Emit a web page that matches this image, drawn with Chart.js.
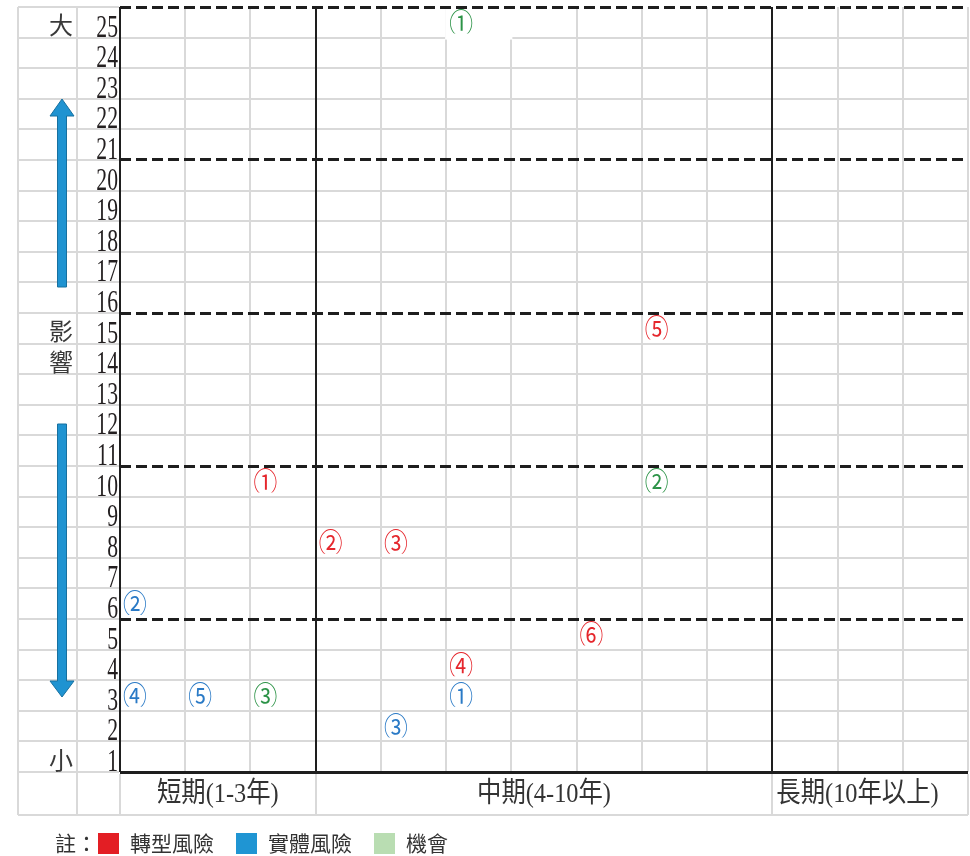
<!DOCTYPE html>
<html>
<head>
<meta charset="utf-8">
<script src="https://cdn.jsdelivr.net/npm/chart.js@4.4.0/dist/chart.umd.min.js"></script>
<style>
html, body { margin: 0; padding: 0; background: #fff; }
canvas { display: block; }
</style>
</head>
<body>
<canvas id="riskMatrix" width="970" height="856"></canvas>
<script>
// x = year (column 1..13), y = impact (row 1..25)
var transitionYears  = [3, 4, 5, 6, 9, 8];
var transitionImpact = [10, 8, 8, 4, 15, 5];
var physicalYears    = [6, 1, 5, 1, 2];
var physicalImpact   = [3, 6, 2, 3, 3];
var opportunityYears  = [6, 9, 3];
var opportunityImpact = [25, 10, 3];

var markerLabels = ['①', '②', '③', '④', '⑤', '⑥'];
var seriesNames = ['轉型風險', '實體風險', '機會'];
var impactTicks = [1, 2, 3, 4, 5, 6, 7, 8, 9, 10, 11, 12, 13, 14, 15, 16, 17, 18, 19, 20, 21, 22, 23, 24, 25];
var impactWords = { 25: '大', 15: '影', 14: '響', 1: '小' };
var periodLabels = ['短期(1-3年)', '中期(4-10年)', '長期(10年以上)'];
var periodStarts = [0, 3, 10];
var periodEnds = [3, 10, 13];
var dashedImpact = [5, 10, 15, 20, 25];

var GRAY = '#d9d9d9';
var INK = '#1e1e1e';

function toPoints(xs, ys) {
    return xs.map(function (x, i) { return { x: x, y: ys[i] }; });
}

function drawText(c, str, x, y, font, color, align, baseline, sx) {
    c.save();
    c.font = font;
    c.fillStyle = color;
    c.textAlign = align;
    c.textBaseline = baseline;
    c.translate(x, y);
    c.scale(sx || 1, 1);
    c.fillText(str, 0, 0);
    c.restore();
}

function drawArrow(c, cx, tipY, baseY, endY) {
    // tipY: arrow point, baseY: where head meets shaft, endY: shaft end
    c.save();
    c.beginPath();
    c.moveTo(cx, tipY);
    c.lineTo(cx + 12, baseY);
    c.lineTo(cx + 4.5, baseY);
    c.lineTo(cx + 4.5, endY);
    c.lineTo(cx - 4.5, endY);
    c.lineTo(cx - 4.5, baseY);
    c.lineTo(cx - 12, baseY);
    c.closePath();
    c.fillStyle = '#1f93d1';
    c.fill();
    c.strokeStyle = '#17709f';
    c.lineWidth = 1;
    c.stroke();
    c.restore();
}

var tablePlugin = {
    id: 'tablePlugin',
    afterDraw: function (chart) {
        var c = chart.ctx;
        var xs = chart.scales.x;
        var ys = chart.scales.y;
        var area = chart.chartArea;
        var rowBottom = area.bottom + 43;

        // left table columns + bottom label row
        c.save();
        c.strokeStyle = GRAY;
        c.lineWidth = 2;
        c.beginPath();
        for (var v = 0; v <= 25; v++) {
            var py = Math.round(ys.getPixelForValue(v));
            c.moveTo(18, py);
            c.lineTo(area.left - 1, py);
        }
        c.moveTo(18, rowBottom);
        c.lineTo(area.right, rowBottom);
        c.moveTo(18, area.top);
        c.lineTo(18, rowBottom);
        c.moveTo(77, area.top);
        c.lineTo(77, rowBottom);
        c.moveTo(area.left, area.bottom + 2);
        c.lineTo(area.left, rowBottom);
        periodEnds.forEach(function (e) {
            var px = Math.round(xs.getPixelForValue(e));
            c.moveTo(px, area.bottom + 2);
            c.lineTo(px, rowBottom);
        });
        c.stroke();
        c.restore();

        // impact numbers
        impactTicks.forEach(function (t) {
            var bottom = ys.getPixelForValue(t - 1);
            drawText(c, String(t), area.left - 2, bottom - 1, '31px "Liberation Serif"', '#231f20', 'right', 'alphabetic', 0.7);
            if (impactWords[t]) {
                var mid = (ys.getPixelForValue(t) + bottom) / 2;
                drawText(c, impactWords[t], 73, mid + 3, '24px "Noto Sans CJK TC"', '#3a3a3a', 'right', 'middle', 1);
            }
        });

        // arrows
        drawArrow(c, 62, 99, 116, 287);
        drawArrow(c, 62, 697, 681, 424);

        // period labels
        periodLabels.forEach(function (lab, i) {
            var l = xs.getPixelForValue(periodStarts[i]);
            var r = xs.getPixelForValue(periodEnds[i]);
            var font = '28px "Liberation Serif", "Noto Sans CJK TC"';
            if (i === periodLabels.length - 1) {
                drawText(c, lab, l + 4, area.bottom + 23, font, '#333', 'left', 'middle', 0.87);
            } else {
                drawText(c, lab, (l + r) / 2, area.bottom + 23, font, '#333', 'center', 'middle', 0.87);
            }
        });

        // legend
        var lx = 55, ly = 843;
        c.save();
        c.font = '21px "Noto Sans CJK TC"';
        c.fillStyle = '#333';
        c.textBaseline = 'middle';
        c.textAlign = 'left';
        c.fillText('註：', lx, ly);
        lx += c.measureText('註：').width + 1;
        chart.data.datasets.forEach(function (ds) {
            c.fillStyle = ds.legendColor;
            c.fillRect(lx, ly - 10, 21, 21);
            lx += 32;
            c.fillStyle = '#333';
            c.fillText(ds.label, lx, ly);
            lx += c.measureText(ds.label).width + 22;
        });
        c.restore();
    },
    afterDatasetsDraw: function (chart) {
        var c = chart.ctx;
        var xs = chart.scales.x;
        var ys = chart.scales.y;
        chart.data.datasets.forEach(function (ds) {
            ds.data.forEach(function (p, i) {
                var left = xs.getPixelForValue(p.x - 1);
                var right = xs.getPixelForValue(p.x);
                var top = ys.getPixelForValue(p.y);
                var bottom = ys.getPixelForValue(p.y - 1);
                c.save();
                if (ds.clearCells && ds.clearCells.indexOf(i) >= 0) {
                    c.fillStyle = '#fff';
                    c.fillRect(left - 1, top + 2, right - left + 2, bottom - top);
                }
                // text box is cut off a little above the cell bottom
                c.beginPath();
                c.rect(left, top, right - left + 40, bottom - top - 4);
                c.clip();
                drawText(c, markerLabels[i], left + 3, (top + bottom) / 2 + 1, '28px "Noto Sans CJK TC"', ds.textColor, 'left', 'middle', 0.85);
                c.restore();
            });
        });
    }
};

var ctx = document.getElementById('riskMatrix');

var myChart = new Chart(ctx, {
    type: 'scatter',
    data: {
        datasets: [{
            label: seriesNames[0],
            data: toPoints(transitionYears, transitionImpact),
            textColor: '#e5262c',
            legendColor: '#e31e24'
        }, {
            label: seriesNames[1],
            data: toPoints(physicalYears, physicalImpact),
            textColor: '#2a7ac6',
            legendColor: '#1f95d3'
        }, {
            label: seriesNames[2],
            data: toPoints(opportunityYears, opportunityImpact),
            textColor: '#2c9347',
            legendColor: '#b9ddb2',
            clearCells: [0]
        }]
    },
    options: {
        responsive: false,
        animation: false,
        devicePixelRatio: 1,
        events: [],
        layout: { padding: { left: 120, top: 7, right: 2, bottom: 84 } },
        elements: { point: { radius: 0, hoverRadius: 0 } },
        plugins: { legend: { display: false }, tooltip: { enabled: false } },
        scales: {
            x: {
                type: 'linear', min: 0, max: 13,
                ticks: { display: false, stepSize: 1, maxTicksLimit: 100 },
                grid: { color: GRAY, lineWidth: 2, drawTicks: false, z: -2 },
                border: { display: false }
            },
            // period dividers drawn on top of the horizontal lines
            xMajor: {
                type: 'linear', axis: 'x', position: 'bottom', min: 0, max: 13,
                ticks: { display: false, stepSize: 1, maxTicksLimit: 100 },
                grid: {
                    color: function (c) {
                        if (!c.tick) return 'rgba(0,0,0,0)';
                        var v = c.tick.value;
                        return (v === 0 || (periodEnds.indexOf(v) >= 0 && v < 13)) ? INK : 'rgba(0,0,0,0)';
                    },
                    lineWidth: 2, drawTicks: false, z: 0
                },
                border: { display: false }
            },
            y: {
                type: 'linear', min: 0, max: 25,
                ticks: { display: false, stepSize: 1, maxTicksLimit: 100 },
                grid: {
                    color: function (c) {
                        if (!c.tick) return GRAY;
                        var v = c.tick.value;
                        return (v === 0 || dashedImpact.indexOf(v) >= 0) ? INK : GRAY;
                    },
                    lineWidth: function (c) {
                        if (!c.tick) return 2;
                        var v = c.tick.value;
                        return (v === 0 || dashedImpact.indexOf(v) >= 0) ? 3 : 2;
                    },
                    drawTicks: false, z: -1
                },
                border: {
                    display: false,
                    dash: function (c) {
                        return (c.tick && dashedImpact.indexOf(c.tick.value) >= 0) ? [11, 5] : [];
                    }
                }
            }
        }
    },
    plugins: [tablePlugin]
});
</script>
</body>
</html>
